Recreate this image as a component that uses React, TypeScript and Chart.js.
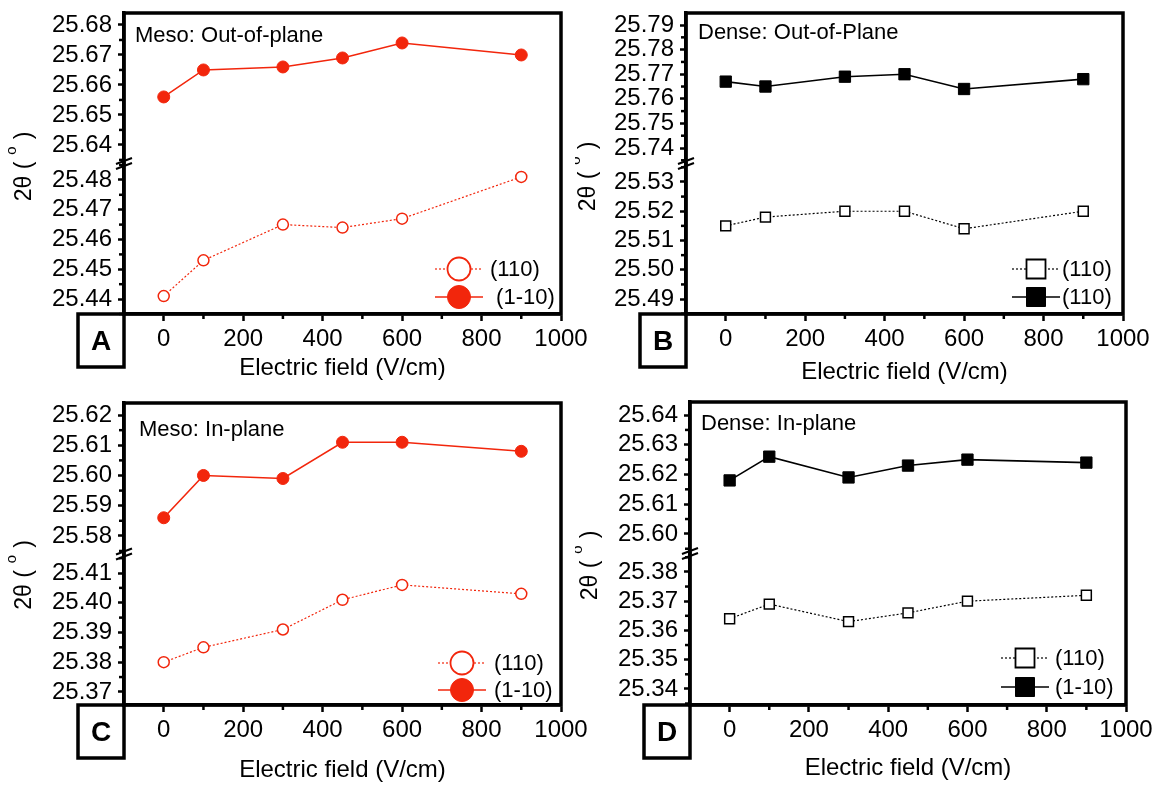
import React, { useEffect, useRef } from 'react';
import { Chart, registerables } from 'chart.js';

Chart.register(...registerables);

const FONT = '"Liberation Sans", Arial, Helvetica, sans-serif';

// ---------------- data ----------------
const fieldValues = [0, 100, 300, 450, 600, 900];
const xLimits = [-100, 1000];
const xTickStep = 200;
const yTickStep = 0.01;
const xTitle = 'Electric field (V/cm)';

// Panel A: Meso, out-of-plane
const mesoOutOpen = [25.441, 25.453, 25.465, 25.464, 25.467, 25.481];
const mesoOutFilled = [25.656, 25.665, 25.666, 25.669, 25.674, 25.67];
const mesoOutUpperLimits = [25.6338, 25.684];
const mesoOutLowerLimits = [25.435, 25.4855];
const mesoOutLabels = ['(110)', ' (1-10)'];

// Panel B: Dense, out-of-plane
const denseOutOpen = [25.515, 25.518, 25.52, 25.52, 25.514, 25.52];
const denseOutFilled = [25.767, 25.765, 25.769, 25.77, 25.764, 25.768];
const denseOutUpperLimits = [25.7337, 25.7949];
const denseOutLowerLimits = [25.4849, 25.5363];
const denseOutLabels = ['(110)', '(110)'];

// Panel C: Meso, in-plane
const mesoInOpen = [25.38, 25.385, 25.391, 25.401, 25.406, 25.403];
const mesoInFilled = [25.586, 25.6, 25.599, 25.611, 25.611, 25.608];
const mesoInUpperLimits = [25.574, 25.624];
const mesoInLowerLimits = [25.3656, 25.4164];
const mesoInLabels = ['(110)', '(1-10)'];

// Panel D: Dense, in-plane
const denseInOpen = [25.364, 25.369, 25.363, 25.366, 25.37, 25.372];
const denseInFilled = [25.618, 25.626, 25.619, 25.623, 25.625, 25.624];
const denseInUpperLimits = [25.5934, 25.6444];
const denseInLowerLimits = [25.3345, 25.3863];
const denseInLabels = ['(110)', '(1-10)'];

// ---------------- styles / layout ----------------
const RED = '#F2260C';
const BLACK = '#000000';

type Spec = {
  letter: string;
  note: string;
  open: number[];
  filled: number[];
  upper: number[];
  lower: number[];
  labels: string[];
  color: string;
  marker: 'circle' | 'rect';
  canvas: [number, number, number, number];
  yWidth: number;
  padTop: number;
  padRight: number;
  xHeight: number;
  xTitlePad: number;
  noteDx: number;
  noteDy: number;
  legDx: number;
  legDy: [number, number];
  legTextDx: number;
  titleDx: number;
  titleDy: number;
};

const specs: Spec[] = [
  {
    letter: 'A', note: 'Meso: Out-of-plane', open: mesoOutOpen, filled: mesoOutFilled,
    upper: mesoOutUpperLimits, lower: mesoOutLowerLimits, labels: mesoOutLabels,
    color: RED, marker: 'circle', canvas: [0, 0, 600, 392], yWidth: 124, padTop: 13, padRight: 39,
    xHeight: 78, xTitlePad: 9.6, noteDx: 11, noteDy: 23, legDx: -102, legDy: [-45, -17], legTextDx: 31,
    titleDx: -93, titleDy: 3,
  },
  {
    letter: 'B', note: 'Dense: Out-of-Plane', open: denseOutOpen, filled: denseOutFilled,
    upper: denseOutUpperLimits, lower: denseOutLowerLimits, labels: denseOutLabels,
    color: BLACK, marker: 'rect', canvas: [575, 0, 584, 392], yWidth: 111, padTop: 13, padRight: 36,
    xHeight: 78, xTitlePad: 5.6, noteDx: 12, noteDy: 20, legDx: -87, legDy: [-45, -17], legTextDx: 26,
    titleDx: -91, titleDy: 13,
  },
  {
    letter: 'C', note: 'Meso: In-plane', open: mesoInOpen, filled: mesoInFilled,
    upper: mesoInUpperLimits, lower: mesoInLowerLimits, labels: mesoInLabels,
    color: RED, marker: 'circle', canvas: [0, 392, 600, 395], yWidth: 124, padTop: 11, padRight: 39,
    xHeight: 82, xTitlePad: 2.6, noteDx: 15, noteDy: 27, legDx: -99, legDy: [-42, -15], legTextDx: 32,
    titleDx: -93, titleDy: 21,
  },
  {
    letter: 'D', note: 'Dense: In-plane', open: denseInOpen, filled: denseInFilled,
    upper: denseInUpperLimits, lower: denseInLowerLimits, labels: denseInLabels,
    color: BLACK, marker: 'rect', canvas: [575, 392, 584, 395], yWidth: 115, padTop: 10, padRight: 33,
    xHeight: 82, xTitlePad: 4.6, noteDx: 11, noteDy: 22, legDx: -101, legDy: [-47, -18], legTextDx: 30,
    titleDx: -93, titleDy: 12,
  },
];

function drawMarker(ctx: CanvasRenderingContext2D, style: string, x: number, y: number, size: number, fill: string, stroke: string, lw: number) {
  ctx.beginPath();
  if (style === 'circle') {
    ctx.arc(x, y, size, 0, Math.PI * 2);
  } else {
    ctx.rect(x - size, y - size, size * 2, size * 2);
  }
  ctx.fillStyle = fill;
  ctx.fill();
  ctx.lineWidth = lw;
  ctx.strokeStyle = stroke;
  ctx.stroke();
}

// ticks at exact multiples of the step inside the scale's limits
function stepTicks(scale: any, step: number) {
  const k0 = Math.ceil(scale.min / step - 1e-6);
  const k1 = Math.floor(scale.max / step + 1e-6);
  const out: { value: number }[] = [];
  for (let k = k0; k <= k1; k++) {
    out.push({ value: Math.round(k * step * 1e6) / 1e6 });
  }
  scale.ticks = out;
}

function makeConfig(spec: Spec): any {
  const isCircle = spec.marker === 'circle';
  const yScale = (limits: number[], weight: number) => ({
    type: 'linear',
    position: 'left',
    stack: 'y',
    stackWeight: 1,
    weight,
    min: limits[0],
    max: limits[1],
    afterBuildTicks: (s: any) => stepTicks(s, yTickStep),
    afterFit: (s: any) => {
      s.width = spec.yWidth;
      s.paddingTop = 0;
      s.paddingBottom = 0;
    },
    ticks: {
      autoSkip: false,
      color: '#000',
      padding: 6,
      font: { family: FONT, size: 24 },
      callback: (v: number) => Number(v).toFixed(2),
    },
    grid: { display: true, drawOnChartArea: false, drawTicks: true, tickLength: 6, tickWidth: 2.5, tickColor: '#000' },
    border: { display: true, color: '#000', width: 3.5 },
  });

  return {
    type: 'line',
    data: {
      datasets: [
        {
          label: spec.labels[0],
          data: fieldValues.map((x, i) => ({ x, y: spec.open[i] })),
          xAxisID: 'x',
          yAxisID: 'yLow',
          borderColor: spec.color,
          borderWidth: 1.2,
          borderDash: [2, 2],
          pointStyle: spec.marker,
          pointRadius: isCircle ? 5.5 : 7,
          pointBorderWidth: 1.5,
          pointBackgroundColor: '#ffffff',
          pointBorderColor: spec.color,
          fill: false,
          tension: 0,
        },
        {
          label: spec.labels[1],
          data: fieldValues.map((x, i) => ({ x, y: spec.filled[i] })),
          xAxisID: 'x',
          yAxisID: 'yHigh',
          borderColor: spec.color,
          borderWidth: 1.6,
          borderDash: [],
          pointStyle: spec.marker,
          pointRadius: isCircle ? 6 : 8,
          pointBorderWidth: 1,
          pointBackgroundColor: spec.color,
          pointBorderColor: spec.color,
          fill: false,
          tension: 0,
        },
      ],
    },
    options: {
      animation: false,
      responsive: false,
      maintainAspectRatio: false,
      layout: { padding: { top: spec.padTop, right: spec.padRight, left: 0, bottom: 0 } },
      plugins: { legend: { display: false }, tooltip: { enabled: false } },
      scales: {
        x: {
          type: 'linear',
          position: 'bottom',
          min: xLimits[0],
          max: xLimits[1],
          afterBuildTicks: (s: any) => stepTicks(s, xTickStep),
          afterFit: (s: any) => {
            s.height = spec.xHeight;
            s.paddingLeft = 0;
            s.paddingRight = 0;
          },
          ticks: {
            autoSkip: false,
            maxRotation: 0,
            color: '#000',
            padding: 4,
            font: { family: FONT, size: 24 },
            callback: (v: number) => String(Math.round(Number(v))),
          },
          grid: { display: true, drawOnChartArea: false, drawTicks: true, tickLength: 7, tickWidth: 2.5, tickColor: '#000' },
          border: { display: true, color: '#000', width: 3.5 },
          title: {
            display: true,
            text: xTitle,
            color: '#000',
            font: { family: FONT, size: 24 },
            padding: { top: 0, bottom: spec.xTitlePad },
          },
        },
        yLow: yScale(spec.lower, 0),
        yHigh: yScale(spec.upper, 1),
      },
    },
    plugins: [
      {
        id: 'decor' + spec.letter,
        afterDraw(chart: any) {
          const { ctx, chartArea: a } = chart;
          const xs = chart.scales.x;
          const up = chart.scales.yHigh;
          const lo = chart.scales.yLow;
          ctx.save();
          // minor ticks
          ctx.strokeStyle = '#000';
          ctx.lineWidth = 2.5;
          for (const sc of [up, lo]) {
            const half = yTickStep / 2;
            const k0 = Math.ceil(sc.min / half - 1e-6);
            const k1 = Math.floor(sc.max / half + 1e-6);
            for (let k = k0; k <= k1; k++) {
              if (k % 2 === 0) continue;
              const p = sc.getPixelForValue(k * half);
              ctx.beginPath();
              ctx.moveTo(a.left, p);
              ctx.lineTo(a.left - 5, p);
              ctx.stroke();
            }
          }
          const xStep = xTickStep / 2;
          for (let k = Math.ceil(xs.min / xStep); k <= Math.floor(xs.max / xStep); k++) {
            const v = k * xStep;
            if (k % 2 === 0 || v <= xs.min) continue;
            const p = xs.getPixelForValue(v);
            ctx.beginPath();
            ctx.moveTo(p, a.bottom);
            ctx.lineTo(p, a.bottom + 5);
            ctx.stroke();
          }
          // frame
          ctx.lineWidth = 3.5;
          ctx.strokeRect(a.left, a.top, a.right - a.left, a.bottom - a.top);
          // axis break marks
          const yb = up.bottom;
          ctx.lineWidth = 2;
          for (const d of [-2.5, 2.5]) {
            ctx.beginPath();
            ctx.moveTo(a.left - 8, yb + d + 3);
            ctx.lineTo(a.left + 8, yb + d - 3);
            ctx.stroke();
          }
          // panel letter box
          ctx.lineWidth = 3.5;
          ctx.strokeRect(a.left - 46, a.bottom, 46, 53);
          ctx.fillStyle = '#000';
          ctx.font = `bold 28px ${FONT}`;
          ctx.textAlign = 'center';
          ctx.textBaseline = 'middle';
          ctx.fillText(spec.letter, a.left - 23, a.bottom + 28);
          // annotation
          ctx.font = `22px ${FONT}`;
          ctx.textAlign = 'left';
          ctx.fillText(spec.note, a.left + spec.noteDx, a.top + spec.noteDy);
          // legend
          const mx = a.right + spec.legDx;
          chart.data.datasets.forEach((ds: any, i: number) => {
            const my = a.bottom + spec.legDy[i];
            ctx.save();
            ctx.strokeStyle = ds.borderColor;
            ctx.lineWidth = ds.borderWidth;
            ctx.setLineDash(ds.borderDash || []);
            ctx.beginPath();
            ctx.moveTo(mx - 24, my);
            ctx.lineTo(mx + 24, my);
            ctx.stroke();
            ctx.setLineDash([]);
            const size = ds.pointStyle === 'circle' ? 11.5 : 9.5;
            drawMarker(ctx, ds.pointStyle, mx, my, size, ds.pointBackgroundColor, ds.pointBorderColor, i === 0 ? 1.8 : 1);
            ctx.restore();
            ctx.fillStyle = '#000';
            ctx.font = `22px ${FONT}`;
            ctx.textAlign = 'left';
            ctx.textBaseline = 'middle';
            ctx.fillText(ds.label, mx + spec.legTextDx, my + 1);
          });
          // y-axis title: 2θ (°)
          ctx.translate(a.left + spec.titleDx, (a.top + a.bottom) / 2 + spec.titleDy);
          ctx.rotate(-Math.PI / 2);
          ctx.textAlign = 'left';
          ctx.textBaseline = 'alphabetic';
          const mainFont = `23px ${FONT}`;
          const supFont = `15px ${FONT}`;
          ctx.font = mainFont;
          const w1 = ctx.measureText('2θ (').width;
          const w3 = ctx.measureText(')').width;
          ctx.font = supFont;
          const w2 = ctx.measureText('o').width;
          const gap = 7;
          let px = -(w1 + gap + w2 + gap + w3) / 2;
          ctx.font = mainFont;
          ctx.fillText('2θ (', px, 0);
          px += w1 + gap;
          ctx.font = supFont;
          ctx.fillText('o', px, -15);
          px += w2 + gap;
          ctx.font = mainFont;
          ctx.fillText(')', px, 0);
          ctx.restore();
        },
      },
    ],
  };
}

function Panel({ spec }: { spec: Spec }) {
  const ref = useRef<HTMLCanvasElement>(null);
  useEffect(() => {
    const chart = new Chart(ref.current as HTMLCanvasElement, makeConfig(spec));
    return () => chart.destroy();
  }, [spec]);
  const [l, t, w, h] = spec.canvas;
  return (
    <canvas
      ref={ref}
      width={w}
      height={h}
      style={{ position: 'absolute', left: l, top: t, width: w, height: h }}
    />
  );
}

export default function App() {
  return (
    <div style={{ position: 'absolute', left: 0, top: 0, width: 1159, height: 787, background: '#fff', overflow: 'hidden' }}>
      {specs.map((s) => (
        <Panel key={s.letter} spec={s} />
      ))}
    </div>
  );
}
